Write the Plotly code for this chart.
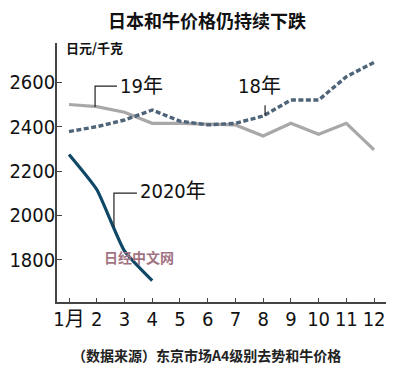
import plotly.graph_objects as go

months = [1, 2, 3, 4, 5, 6, 7, 8, 9, 10, 11, 12]
tick_labels = ["1月", "2", "3", "4", "5", "6", "7", "8", "9", "10", "11", "12"]
y_ticks = [1800, 2000, 2200, 2400, 2600]

price_2018 = [2378, 2400, 2430, 2475, 2425, 2408, 2415, 2448, 2520, 2520, 2625, 2690]
price_2019 = [2500, 2490, 2465, 2415, 2415, 2412, 2408, 2358, 2415, 2366, 2415, 2295]
months_2020 = [1, 2, 3, 4]
price_2020 = [2275, 2117, 1840, 1706]

NUM = "DejaVu Sans Condensed, Liberation Sans Narrow, Liberation Sans, sans-serif"
CJK = "Noto Sans CJK SC, sans-serif"

# the page body has an 8px default margin; size the figure so it fills the window
OFF = 8
W, H = 400 - OFF, 373 - OFF
L, R, T, B = 57 - OFF, 14, 43 - OFF, 71

fig = go.Figure()
fig.add_trace(go.Scatter(x=months, y=price_2019, mode="lines",
                         line=dict(color="#a9a7a8", width=3.2), hoverinfo="skip"))
fig.add_trace(go.Scatter(x=months, y=price_2018, mode="lines",
                         line=dict(color="#4e6479", width=3.4, dash="5px,2.5px"), hoverinfo="skip"))
fig.add_trace(go.Scatter(x=months_2020, y=price_2020, mode="lines",
                         line=dict(color="#0f4766", width=3.2, shape="spline", smoothing=0.5),
                         hoverinfo="skip"))

lc = dict(color="#222222", width=1.2)
# leader lines
fig.add_shape(type="path", path="M 1.94 2489 L 1.94 2583 L 2.73 2583",
              xref="x", yref="y", line=lc)
fig.add_shape(type="line", x0=8.07, x1=8.07, y0=2449, y1=2497, xref="x", yref="y", line=lc)
fig.add_shape(type="path", path="M 2.62 1948 L 2.62 2101 L 3.45 2101",
              xref="x", yref="y", line=lc)

lab_font = dict(family=NUM + ", " + CJK, size=20, color="#111111")
fig.add_annotation(x=2.75, y=2585, text="19年", showarrow=False, xanchor="left",
                   yanchor="middle", font=lab_font, xref="x", yref="y")
fig.add_annotation(x=7.02, y=2585, text="18年", showarrow=False, xanchor="left",
                   yanchor="middle", font=lab_font, xref="x", yref="y")
fig.add_annotation(x=3.47, y=2110, text="2020年", showarrow=False, xanchor="left",
                   yanchor="middle", font=lab_font, xref="x", yref="y")
# watermark
fig.add_annotation(x=2.2, y=1815, text="<b>日经中文网</b>", showarrow=False, xanchor="left",
                   yanchor="middle", xref="x", yref="y",
                   font=dict(family=CJK, size=14, color="#a27483"))

fig.update_layout(
    width=W, height=H,
    margin=dict(l=L, r=R, t=T, b=B, autoexpand=False),
    paper_bgcolor="white", plot_bgcolor="white",
    showlegend=False,
    xaxis=dict(range=[0.567, 12.43], tickmode="array", tickvals=months, ticktext=tick_labels,
               showgrid=False, zeroline=False, showline=True, linecolor="#444444", linewidth=1.6,
               ticks="inside", ticklen=4, tickwidth=1.3, tickcolor="#444444",
               tickfont=dict(family=NUM + ", " + CJK, size=20, color="#111111"),
               ticklabelstandoff=-2,
               automargin=False, fixedrange=True),
    yaxis=dict(range=[1610, 2777], tickmode="array", tickvals=y_ticks,
               showgrid=False, zeroline=False, showline=True, linecolor="#444444", linewidth=1.6,
               ticks="inside", ticklen=5, tickwidth=1.3, tickcolor="#444444",
               tickfont=dict(family=NUM, size=20, color="#111111"),
               ticklabelstandoff=-4,
               automargin=False, fixedrange=True),
)

# window-pixel -> paper helpers
def px(x):
    return (x - OFF - L) / (W - L - R)
def py(y):
    return (H - B - (y - OFF)) / (H - T - B)

fig.add_annotation(x=px(207), y=py(20), xref="paper", yref="paper", showarrow=False,
                   text="<b>日本和牛价格仍持续下跌</b>", xanchor="center", yanchor="middle",
                   font=dict(family=CJK, size=18, color="#111111"))
fig.add_annotation(x=px(64), y=py(48), xref="paper", yref="paper", showarrow=False,
                   text="<b>日元/千克</b>", xanchor="left", yanchor="middle",
                   font=dict(family=CJK, size=13, color="#111111"))
fig.add_annotation(x=px(206), y=py(355), xref="paper", yref="paper", showarrow=False,
                   text="<b>（数据来源）东京市场A4级别去势和牛价格</b>", xanchor="center",
                   yanchor="middle", font=dict(family=CJK, size=14, color="#222222"))

fig.write_html("out.html")
